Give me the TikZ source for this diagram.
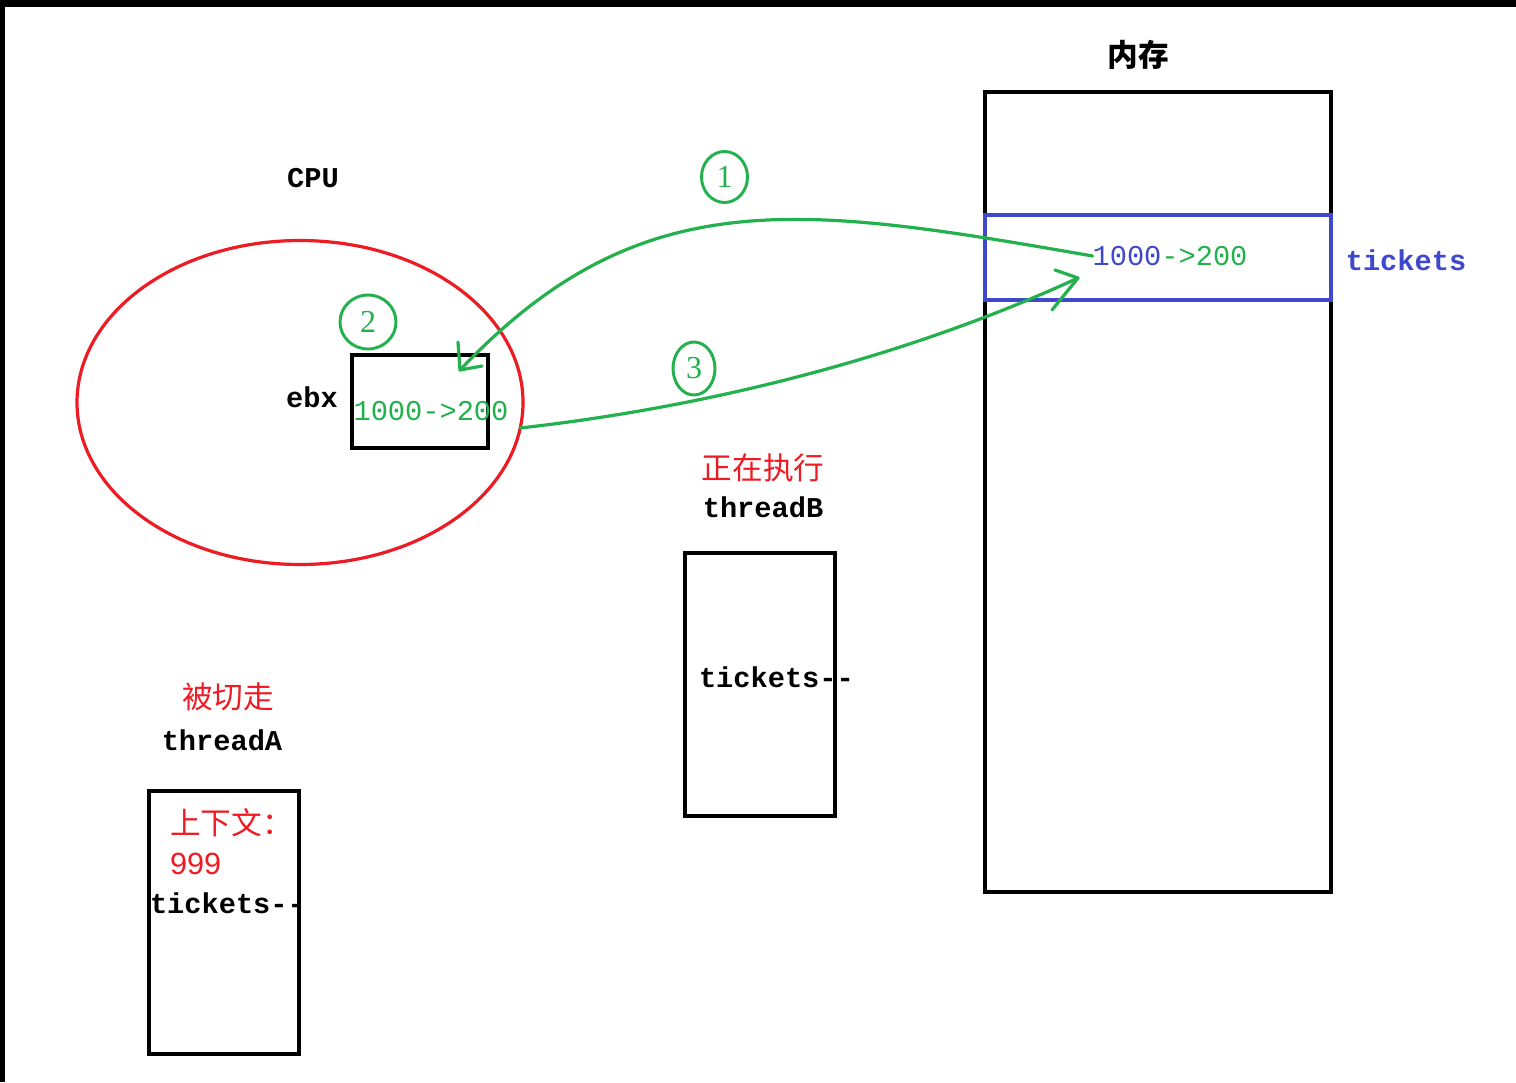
\documentclass[tikz,border=0pt]{standalone}
\usepackage{fontspec}
\setmainfont{Liberation Serif}
\setmonofont{Liberation Mono}
\newfontfamily\cjk{Noto Sans CJK SC}
\newfontfamily\arialf{Liberation Sans}
\usetikzlibrary{shapes.geometric}
\definecolor{pgreen}{RGB}{34,177,76}
\definecolor{pred}{RGB}{237,28,36}
\definecolor{pblue}{RGB}{63,72,204}
\newcommand\latf{\ttfamily\fontsize{21.5}{24}\selectfont}
\newcommand\cjkf{\cjk\fontsize{23}{26}\selectfont}
\tikzset{
  lbl/.style={inner sep=0pt, outer sep=0pt, anchor=center},
  boxk/.style={draw=black, line width=2.3pt},
  gline/.style={draw=pgreen, line width=2.4pt, line cap=round, line join=round},
  num/.style={draw=pgreen, line width=2.2pt, ellipse, inner sep=0pt, text=pgreen,
              font=\fontsize{24}{26}\selectfont},
}
\begin{document}
\begin{tikzpicture}[x=0.75pt,y=-0.75pt]
\useasboundingbox (0,0) rectangle (1516,1082);
\fill[white] (0,0) rectangle (1516,1082);
% screenshot frame
\fill[black] (0,0) rectangle (1516,7);
\fill[black] (0,0) rectangle (5,1082);

% memory
\node[lbl, font=\cjkf\bfseries] (memt) at (1138,55) {内存};
\node[boxk, minimum width=346*0.75pt, minimum height=800*0.75pt, inner sep=0pt] (mem) at (1158,492) {};
\node[draw=pblue, line width=2.3pt, minimum width=346*0.75pt, minimum height=85*0.75pt, inner sep=0pt] (slot) at (1158,257.5) {};
\node[lbl, font=\latf] (memval) at (1170,256) {\textcolor{pblue}{1000}\textcolor{pgreen}{->200}};
\node[lbl, font=\latf\bfseries, text=pblue] (tk) at (1406,260) {tickets};

% CPU
\node[lbl, font=\latf\bfseries] (cpu) at (313,178) {CPU};
\draw[pred, line width=2.4pt] (300,402.5) ellipse [x radius=223, y radius=162];
\node[boxk, minimum width=136*0.75pt, minimum height=93*0.75pt, inner sep=0pt] (ebx) at (420,401.5) {};
\node[lbl, font=\latf\bfseries] (ebxt) at (312,397) {ebx};
\node[lbl, font=\latf, text=pgreen] (ebxv) at (431,411) {1000->200};

% numbered circles
\node[num, minimum width=56*0.75pt, minimum height=54*0.75pt] (n2) at (368,322) {2};
\node[num, minimum width=46*0.75pt, minimum height=51*0.75pt] (n1) at (724.5,177) {1};
\node[num, minimum width=42*0.75pt, minimum height=53*0.75pt] (n3) at (694,368.5) {3};

% arrow 1: memory -> ebx
\coordinate (a1e) at (460,370);
\draw[gline] (memval.west) .. controls (800,205) and (640,180) .. (a1e);
\draw[gline] (a1e) -- ++(-2,-28);
\draw[gline] (a1e) -- ++(22,-4);

% arrow 3: ebx -> memory
\coordinate (a3s) at (520,428);
\coordinate (a3e) at (1078,278);
\draw[gline] (a3s) .. controls (700,408) and (900,360) .. (a3e);
\draw[gline] (a3e) -- ++(-23,-8);
\draw[gline] (a3e) -- ++(-26,32);

% threadB
\node[lbl, font=\cjkf, text=pred] (runb) at (763,468) {正在执行};
\node[lbl, font=\latf\bfseries] (tb) at (763,507) {threadB};
\node[boxk, minimum width=150*0.75pt, minimum height=263*0.75pt, inner sep=0pt] (boxb) at (760,684.5) {};
\node[lbl, font=\latf\bfseries, anchor=west] (tkb) at (699,677) {tickets{-}{-}};

% threadA
\node[lbl, font=\cjkf, text=pred] (cuta) at (228,697) {被切走};
\node[lbl, font=\latf\bfseries] (ta) at (222,740) {threadA};
\node[boxk, minimum width=150*0.75pt, minimum height=263*0.75pt, inner sep=0pt] (boxa) at (224,922.5) {};
\node[lbl, font=\cjkf, text=pred, anchor=west] (ctx) at (170,823) {上下文：};
\node[lbl, font=\arialf\fontsize{23}{26}\selectfont, text=pred, anchor=west] (v999) at (170,864) {999};
\node[lbl, font=\latf\bfseries, anchor=west] (tka) at (150,903) {tickets{-}{-}};
\end{tikzpicture}
\end{document}
